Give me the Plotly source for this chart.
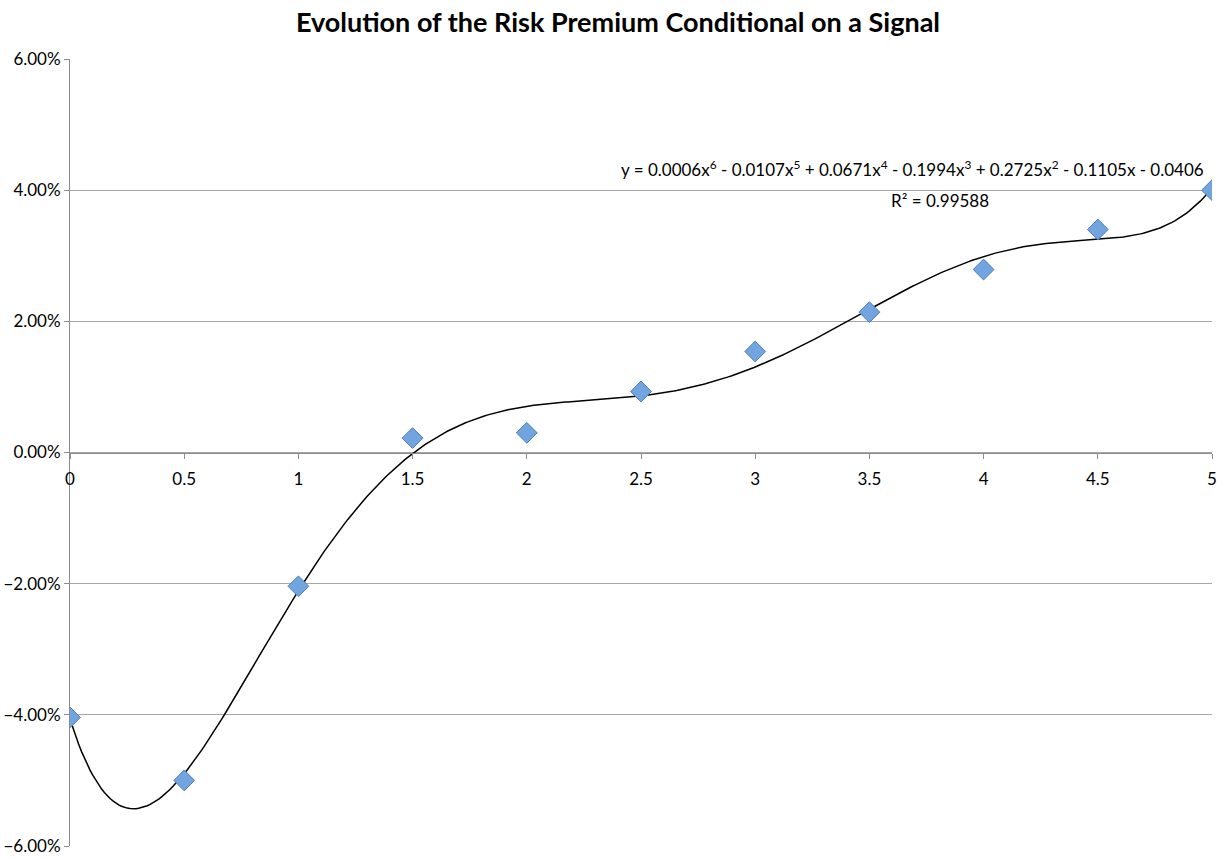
import numpy as np
import plotly.graph_objects as go

signal = [0, 0.5, 1, 1.5, 2, 2.5, 3, 3.5, 4, 4.5, 5]
premium = [-0.0404, -0.0500, -0.0204, 0.0022, 0.0030, 0.0093, 0.0154, 0.0214, 0.0279, 0.0340, 0.0400]
y_ticks = [-0.06, -0.04, -0.02, 0.0, 0.02, 0.04, 0.06]
x_ticks = [0, 0.5, 1, 1.5, 2, 2.5, 3, 3.5, 4, 4.5, 5]
title = "Evolution of the Risk Premium Conditional on a Signal"
equation = "y = 0.0006x<sup>6</sup> - 0.0107x<sup>5</sup> + 0.0671x<sup>4</sup> - 0.1994x<sup>3</sup> + 0.2725x<sup>2</sup> - 0.1105x - 0.0406"
r2_text = "R² = 0.99588"

# polynomial trendline (order 6) fitted to the data, as the spreadsheet does
coef = np.polyfit(signal, premium, 6)
xs = np.linspace(0, 5, 400)
ys = np.polyval(coef, xs)

font = "Lato, 'Open Sans', sans-serif"

W, H = 1223, 859
L, R, T, B = 70, 11, 59, 13

fig = go.Figure()
fig.add_trace(go.Scatter(x=xs, y=ys, mode="lines",
                         line=dict(color="black", width=1.5), hoverinfo="skip"))
fig.add_trace(go.Scatter(x=signal, y=premium, mode="markers",
                         marker=dict(symbol="diamond", size=16, color="#72a5df",
                                     line=dict(color="#4a7ebb", width=1))))

pw, ph = W - L - R, H - T - B


def px_to_paper(px, py):
    return (px - L) / pw, 1 - (py - T) / ph


ex, ey = px_to_paper(912, 168)
rx, ry = px_to_paper(940, 201)

fig.update_layout(
    width=W, height=H,
    margin=dict(l=L, r=R, t=T, b=B),
    plot_bgcolor="white", paper_bgcolor="white",
    showlegend=False,
    font=dict(family=font, size=17, color="black"),
    title=dict(text="<b>" + title + "</b>", x=618 / W, xanchor="center",
               y=1 - 23 / H, yanchor="middle", font=dict(size=27, family=font)),
    xaxis=dict(range=[0, 5], tickvals=x_ticks, showgrid=False, zeroline=False,
               anchor="free", position=0.5, showline=True, linecolor="#8c8c8c",
               linewidth=1, ticks="outside", ticklen=5, tickcolor="#8c8c8c",
               ticklabelstandoff=6, automargin=False,
               tickfont=dict(size=17)),
    yaxis=dict(range=[-0.06, 0.06], tickvals=y_ticks, tickformat=".2%",
               showgrid=True, gridcolor="#a6a6a6", gridwidth=1, zeroline=False,
               showline=True, linecolor="#8c8c8c", linewidth=1,
               ticks="outside", ticklen=5, tickcolor="#8c8c8c",
               automargin=False, tickfont=dict(size=17)),
    annotations=[
        dict(text=equation, x=ex, y=ey, xref="paper", yref="paper",
             xanchor="center", yanchor="middle",
             showarrow=False, font=dict(size=17)),
        dict(text=r2_text, x=rx, y=ry, xref="paper", yref="paper",
             xanchor="center", yanchor="middle",
             showarrow=False, font=dict(size=17)),
    ],
)

fig.write_html("out.html", config={"displayModeBar": False},
               post_script="document.body.style.margin='0';document.body.style.overflow='hidden';")
